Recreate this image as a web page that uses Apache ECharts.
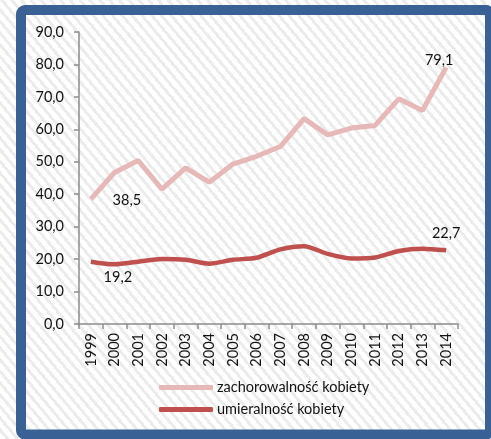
<!DOCTYPE html>
<html>
<head>
<meta charset="utf-8">
<script src="https://cdn.jsdelivr.net/npm/echarts@6/dist/echarts.min.js"></script>
<style>
html, body { margin:0; padding:0; }
body {
  width:491px; height:439px; overflow:hidden;
  background: repeating-linear-gradient(50deg, #ffffff 0px, #ffffff 4.5px, #ececec 4.5px, #ececec 7.5px);
}
#chart { width:491px; height:439px; }
</style>
</head>
<body>
<div id="chart"></div>
<script>
const years = ['1999','2000','2001','2002','2003','2004','2005','2006','2007','2008','2009','2010','2011','2012','2013','2014'];
const zachorowalnosc = [38.5, 46.7, 50.4, 41.6, 48.1, 43.7, 49.3, 51.7, 54.7, 63.3, 58.3, 60.4, 61.2, 69.4, 65.8, 79.1];
const umieralnosc = [19.2, 18.4, 19.2, 20.0, 19.8, 18.6, 19.8, 20.4, 23.0, 24.0, 21.6, 20.2, 20.5, 22.5, 23.2, 22.7];
const seriesNames = ['zachorowalność kobiety', 'umieralność kobiety'];
const yTicks = { min: 0, max: 90, interval: 10 };

const FONT = 'Lato';
const fmt = v => v.toFixed(1).replace('.', ',');

function withLabels(values, labelled) {
  return values.map((v, i) => {
    if (labelled[i]) {
      return {
        value: v,
        label: {
          show: true,
          position: labelled[i],
          align: 'center',
          verticalAlign: 'middle',
          formatter: fmt(v),
          color: '#111',
          fontFamily: FONT,
          fontSize: 14.5
        }
      };
    }
    return v;
  });
}

const chart = echarts.init(document.getElementById('chart'), null, { renderer: 'canvas' });
chart.setOption({
  backgroundColor: 'transparent',
  animation: false,
  grid: { left: 79, right: 33, top: 32, bottom: 115, containLabel: false },
  xAxis: {
    type: 'category',
    data: years,
    boundaryGap: true,
    axisLine: { lineStyle: { color: '#8c8c8c', width: 1.5 } },
    axisTick: { show: true, length: 5, alignWithLabel: false, lineStyle: { color: '#8c8c8c', width: 1.5 } },
    axisLabel: { rotate: 90, margin: 9, color: '#111', fontFamily: FONT, fontSize: 14.5, interval: 0 },
    splitLine: { show: false }
  },
  yAxis: {
    type: 'value',
    min: yTicks.min, max: yTicks.max, interval: yTicks.interval,
    axisLine: { show: true, lineStyle: { color: '#8c8c8c', width: 1.5 } },
    axisTick: { show: true, length: 5, lineStyle: { color: '#8c8c8c', width: 1.5 } },
    axisLabel: { margin: 15, color: '#111', fontFamily: FONT, fontSize: 14.5, formatter: v => fmt(v) },
    splitLine: { show: false }
  },
  legend: {
    orient: 'vertical',
    left: 154, top: 375,
    itemWidth: 54, itemHeight: 5,
    itemGap: 7,
    icon: 'roundRect',
    textStyle: { color: '#111', fontFamily: FONT, fontSize: 14.5, padding: [0,0,0,-1] },
    data: seriesNames
  },
  series: [
    {
      name: seriesNames[0],
      type: 'line',
      data: withLabels(zachorowalnosc, { 0: [36, 1], 15: [-7, -7] }),
      symbol: 'circle', symbolSize: 0, showSymbol: true,
      lineStyle: { color: '#E6B9B8', width: 5 },
      itemStyle: { color: '#E6B9B8' },
      z: 3
    },
    {
      name: seriesNames[1],
      type: 'line',
      smooth: 0.25,
      data: withLabels(umieralnosc, { 0: [27, 16], 15: [0, -17] }),
      symbol: 'circle', symbolSize: 0, showSymbol: true,
      lineStyle: { color: '#C0504D', width: 4.5 },
      itemStyle: { color: '#C0504D' },
      z: 4
    }
  ],
  graphic: [
    {
      type: 'rect',
      silent: true,
      z: 100,
      shape: { x: 21, y: 10, width: 469, height: 424.5, r: 4 },
      style: { fill: 'none', stroke: '#3A6195', lineWidth: 10 }
    }
  ]
});
</script>
</body>
</html>
